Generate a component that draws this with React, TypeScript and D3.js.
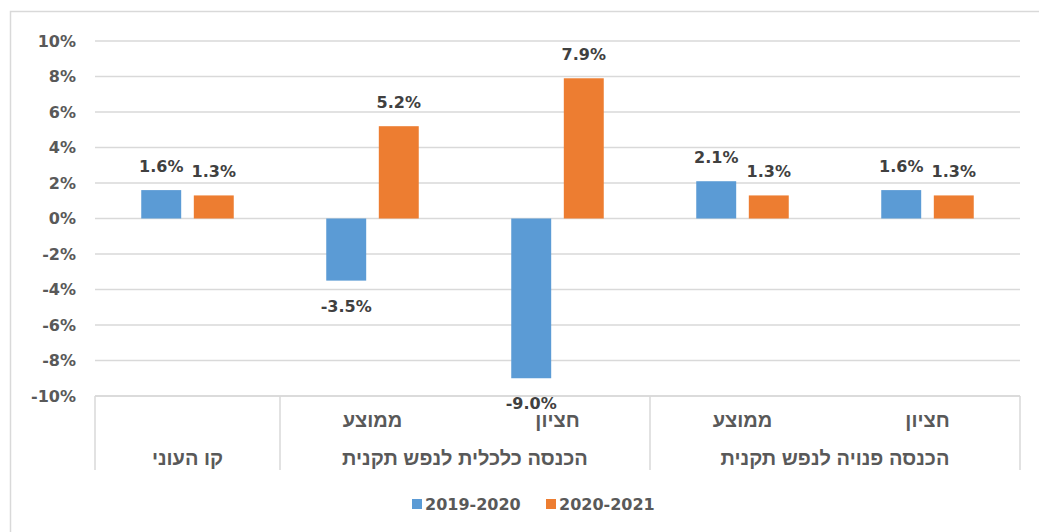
import * as d3 from 'd3';
import * as React from 'react';

const width = 1039;
const height = 532;
const margin = { top: 41, right: 19, bottom: 136, left: 95 };

const categories = ['poverty', 'econ-mean', 'econ-median', 'disp-mean', 'disp-median'];
const subLabels = ['', 'ממוצע', 'חציון', 'ממוצע', 'חציון'];
const groups = [
  { label: 'קו העוני', from: 0, to: 1 },
  { label: 'הכנסה כלכלית לנפש תקנית', from: 1, to: 3 },
  { label: 'הכנסה פנויה לנפש תקנית', from: 3, to: 5 },
];
const seriesNames = ['2019-2020', '2020-2021'];
const values2019 = [1.6, -3.5, -9.0, 2.1, 1.6];
const values2020 = [1.3, 5.2, 7.9, 1.3, 1.3];
const yTicks = [-10, -8, -6, -4, -2, 0, 2, 4, 6, 8, 10];

const colors = ['#5B9BD5', '#ED7D31'];
const grid = '#D9D9D9';
const font = '"DejaVu Sans", Verdana, sans-serif';
const hebrewFont = '"Liberation Sans", Arial, sans-serif';

export default function App() {
  const x = d3
    .scaleBand<string>()
    .domain(categories)
    .range([margin.left, width - margin.right])
    .paddingInner(0)
    .paddingOuter(0);

  const inner = d3
    .scaleBand<string>()
    .domain(seriesNames)
    .range([0, x.bandwidth()])
    .paddingInner(0.24)
    .paddingOuter(0.88);

  const y = d3.scaleLinear().domain([-10, 10]).range([height - margin.bottom, margin.top]);

  const series = [values2019, values2020];
  const axisY = y(-10);
  const catBottom = axisY + 74;

  const fmt = (v: number) => `${v.toFixed(1)}%`;

  return (
    <svg
      width={width}
      height={height}
      style={{ position: 'absolute', left: 0, top: 0, background: '#fff' }}
      fontFamily={font}
    >
      <rect x={10.5} y={11.5} width={1100} height={600} fill="#fff" stroke={grid} strokeWidth={1.5} />

      {/* gridlines */}
      <g stroke={grid} strokeWidth={1.5}>
        {yTicks.map(t => (
          <line key={t} x1={margin.left} x2={width - margin.right} y1={y(t)} y2={y(t)} />
        ))}
      </g>

      {/* y tick labels */}
      <g fill="#595959" fontSize={16} fontWeight="bold" textAnchor="end">
        {yTicks.map(t => (
          <text key={t} x={76} y={y(t)} dy="0.36em">
            {`${t}%`}
          </text>
        ))}
      </g>

      {/* bars */}
      {series.map((vals, si) => (
        <g key={si} fill={colors[si]}>
          {vals.map((v, i) => (
            <rect
              key={i}
              x={(x(categories[i]) as number) + (inner(seriesNames[si]) as number)}
              width={inner.bandwidth()}
              y={y(Math.max(0, v))}
              height={Math.abs(y(v) - y(0))}
            />
          ))}
        </g>
      ))}

      {/* data labels */}
      {series.map((vals, si) => (
        <g key={si} fill="#404040" fontSize={16} fontWeight="bold" textAnchor="middle">
          {vals.map((v, i) => {
            const cx = (x(categories[i]) as number) + (inner(seriesNames[si]) as number) + inner.bandwidth() / 2;
            const ty = v >= 0 ? y(v) - 18 : y(v) + 31;
            return (
              <text key={i} x={cx} y={ty}>
                {fmt(v)}
              </text>
            );
          })}
        </g>
      ))}

      {/* category axis table */}
      <line x1={margin.left} x2={width - margin.right} y1={axisY} y2={axisY} stroke={grid} strokeWidth={1.5} />
      <g stroke={grid} strokeWidth={1.5}>
        {[0, 1, 3, 5].map(i => {
          const xx = i < categories.length ? (x(categories[i]) as number) : width - margin.right;
          return <line key={i} x1={xx} x2={xx} y1={axisY} y2={catBottom} />;
        })}
      </g>
      <g fill="#595959" fontSize={20} fontWeight="bold" textAnchor="middle" fontFamily={hebrewFont}>
        {subLabels.map((s, i) => (
          <text key={i} x={(x(categories[i]) as number) + x.bandwidth() / 2} y={axisY + 31}>
            {s}
          </text>
        ))}
        {groups.map(g => {
          const x0 = x(categories[g.from]) as number;
          const x1 = (x(categories[g.to - 1]) as number) + x.bandwidth();
          return (
            <text key={g.label} x={(x0 + x1) / 2} y={axisY + 69}>
              {g.label}
            </text>
          );
        })}
      </g>

      {/* legend */}
      <g fontSize={16} fontWeight="bold" fill="#595959">
        {seriesNames.map((n, i) => {
          const lx = 412 + i * 134;
          return (
            <g key={n}>
              <rect x={lx} y={499} width={10} height={10} fill={colors[i]} />
              <text x={lx + 13} y={510}>
                {n}
              </text>
            </g>
          );
        })}
      </g>
    </svg>
  );
}
